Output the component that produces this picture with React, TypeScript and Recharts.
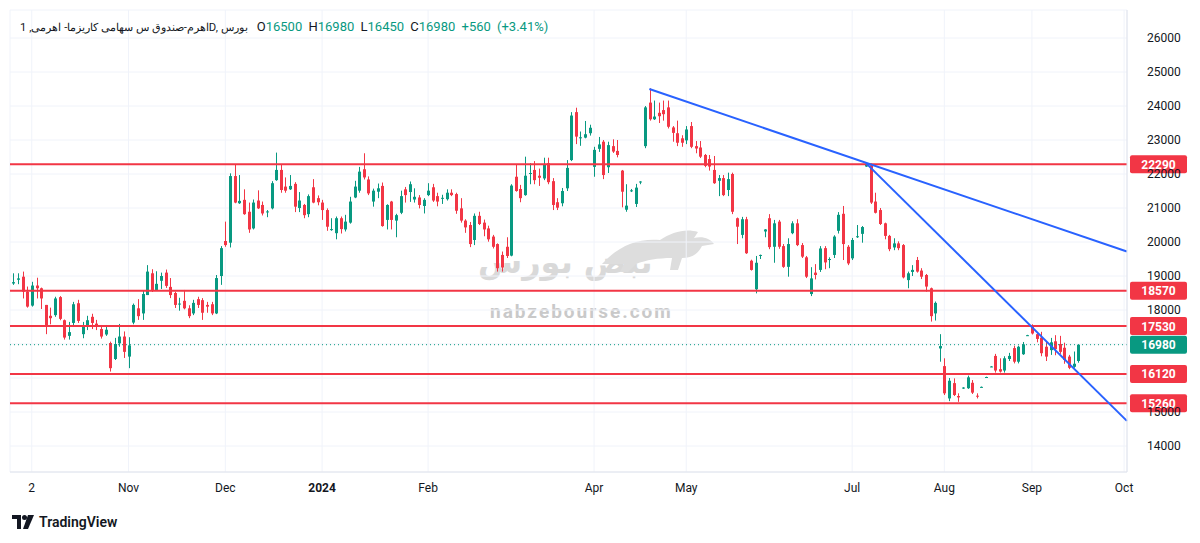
import React from "react";
import { Bar, CartesianGrid, ComposedChart, ReferenceLine, XAxis, YAxis } from "recharts";

// daily candles, Oct 2023 -> Sep 2024
const opens = [
  18780, 18890, 18980, 18540, 18130, 18720, 18640, 18150, 17830, 17850, 18380, 17700, 17240, 17620, 18200, 17290, 17540, 17800, 17600, 17440,
  17280, 17030, 16560, 17020, 17220, 16630, 17630, 18050, 17900, 18440, 19080, 18590, 18860, 19100, 18680, 18500, 18170, 18270, 18050, 17900,
  18320, 18290, 18150, 18170, 17900, 19000, 20030, 19980, 21940, 21140, 21240, 20890, 20400, 21220, 21090, 20880, 20990, 21820, 22120, 21630,
  21550, 21710, 21000, 21090, 20820, 21610, 21290, 21160, 20940, 20360, 20260, 20700, 20370, 20570, 21310, 21510, 22140, 21840, 21190, 21480,
  21650, 20650, 21190, 20630, 20860, 21550, 21470, 21250, 21310, 21060, 21380, 21610, 21350, 21280, 21260, 21450, 21410, 20990, 20630, 20500,
  20060, 20770, 20570, 20400, 20160, 19940, 19620, 19860, 19600, 21920, 21560, 21380, 22010, 22120, 21950, 21870, 22320, 21790, 21170, 21140,
  21580, 22410, 23820, 23050, 23070, 23200, 22210, 22740, 22950, 22200, 22820, 22680, 22100, 20950, 21500, 21120, 21770, 22820, 24100, 23610,
  23800, 23880, 23960, 23370, 23200, 23050, 22990, 23410, 22820, 22780, 22560, 22440, 22120, 21800, 21880, 21530, 22000, 20700, 20210, 20670,
  19450, 18610, 19610, 20310, 20700, 19860, 20600, 19880, 19270, 20260, 20550, 19910, 19550, 18470, 19100, 19180, 19820, 19480, 19620, 20330,
  20830, 19860, 19520, 20140, 20240, 22220, 22260, 21190, 20940, 20550, 20180, 19840, 19960, 19910, 18880, 19120, 19470, 19160, 19030, 18640,
  17900, 16870, 16350, 15400, 15850, 15470, 15690, 15700, 15860, 15480, 15720, 16010, 16320, 16650, 16260, 16220, 16560, 16880, 16480, 16700,
  17240, 17540, 17290, 17190, 16920, 16820, 17080, 17000, 16890, 16630, 16330, 16500,
];
const highs = [
  19080, 19080, 19130, 18690, 18830, 18950, 18660, 18150, 18070, 18390, 18410, 17720, 17650, 18240, 18300, 17650, 17830, 17890, 17710, 17560,
  17560, 17070, 17180, 17590, 17370, 17200, 18190, 18320, 18560, 19320, 19200, 19140, 19100, 19190, 18940, 18540, 18360, 18590, 18140, 18300,
  18390, 18350, 18240, 18240, 19030, 19880, 20600, 22020, 22290, 21970, 21550, 21160, 21250, 21520, 21190, 20940, 21790, 22630, 22270, 21900,
  21970, 21760, 21470, 21120, 21400, 21850, 21370, 21240, 20990, 20700, 20750, 20750, 20800, 21330, 21800, 22210, 22610, 21930, 21570, 21720,
  21750, 21110, 21210, 20830, 21510, 21620, 21780, 21580, 21380, 21290, 21730, 21710, 21450, 21390, 21550, 21550, 21450, 21290, 20670, 20590,
  20840, 20890, 20660, 20480, 20210, 19960, 19720, 20140, 21700, 22290, 21680, 22510, 22320, 22380, 22160, 22480, 22480, 21880, 21290, 21590,
  22410, 23820, 23950, 23250, 23560, 23450, 22800, 23090, 23000, 22950, 23020, 23000, 22120, 21700, 21560, 21710, 21790, 24000, 24520, 24160,
  24100, 24160, 24160, 23410, 23570, 23140, 23410, 23530, 22970, 22970, 22590, 22560, 22530, 21970, 21970, 22040, 22040, 20720, 20740, 20740,
  19480, 19590, 19630, 20380, 20820, 20650, 20650, 19940, 20110, 20610, 20670, 19970, 19590, 19260, 19350, 19880, 19880, 19550, 20200, 20880,
  21060, 19910, 20120, 20500, 20470, 22330, 22310, 21450, 21000, 20570, 20210, 20110, 20020, 19940, 19130, 19320, 19560, 19230, 19060, 18660,
  18250, 17290, 16580, 16000, 15990, 15550, 15730, 16070, 15940, 15550, 15750, 16040, 16350, 16710, 16580, 16640, 16740, 16950, 16950, 17060,
  17270, 17580, 17320, 17360, 17060, 17180, 17260, 17240, 17040, 16680, 16780, 16980,
];
const lows = [
  18740, 18760, 18340, 18070, 18100, 18340, 18030, 17290, 17580, 17800, 17700, 17130, 17130, 17500, 17620, 17170, 17410, 17440, 17410, 17160,
  17240, 16190, 16530, 16920, 16590, 16290, 17580, 17710, 17710, 18440, 18530, 18590, 18620, 18650, 18350, 18060, 17980, 18020, 17760, 17850,
  18060, 17710, 17920, 17850, 17880, 18740, 19860, 19840, 21140, 21120, 20800, 20270, 20370, 20970, 20780, 20730, 20960, 21800, 21450, 21450,
  21530, 20880, 20880, 20700, 20730, 21140, 21080, 20650, 20330, 20330, 20080, 20250, 20310, 20540, 21290, 21450, 21840, 21380, 21040, 21290,
  20450, 20370, 20370, 20140, 20820, 21160, 21180, 21160, 20990, 20840, 21350, 21180, 21050, 21120, 21220, 21350, 20830, 20570, 20270, 19850,
  19910, 20500, 20170, 20010, 19810, 19130, 19130, 19530, 19580, 21480, 21170, 21360, 21700, 21700, 21650, 21820, 21700, 20940, 20940, 21050,
  21500, 22380, 22880, 22830, 23050, 23130, 21920, 22650, 21850, 22030, 22620, 22490, 21020, 20890, 21470, 21030, 21700, 22760, 23570, 23590,
  23500, 23570, 23340, 22950, 22820, 22800, 22880, 22760, 22610, 22470, 22200, 22100, 21710, 21350, 21350, 21350, 20820, 19940, 20110, 19650,
  19160, 18490, 19500, 20140, 19790, 19390, 19800, 19240, 18980, 20230, 19880, 19530, 18940, 18410, 18900, 19120, 19200, 19230, 19530, 20250,
  19470, 19320, 19470, 20120, 19980, 22210, 21120, 20840, 20500, 20080, 19730, 19760, 19760, 18930, 18640, 19000, 19100, 18910, 18540, 17660,
  17690, 16480, 15500, 15320, 15470, 15300, 15680, 15680, 15530, 15400, 15720, 16010, 16320, 16160, 16160, 16160, 16500, 16430, 16430, 16680,
  17240, 17280, 17050, 16640, 16500, 16680, 16670, 16710, 16420, 16260, 16300, 16450,
];
const closes = [
  18820, 18930, 18540, 18100, 18720, 18640, 18340, 17560, 17760, 18340, 17740, 17190, 17350, 18170, 17680, 17510, 17700, 17620, 17520, 17220,
  17420, 16290, 17000, 17220, 16770, 16960, 18150, 17820, 18470, 19130, 18590, 18770, 19000, 18710, 18440, 18150, 18190, 18050, 17820, 18210,
  18150, 17920, 18100, 17900, 18940, 19820, 19910, 21940, 21160, 21210, 20820, 20370, 21160, 20990, 20840, 20900, 21730, 22120, 21530, 21510,
  21650, 21040, 21220, 20790, 21350, 21160, 21170, 20940, 20450, 20380, 20700, 20380, 20600, 21190, 21630, 22070, 21900, 21430, 21510, 21580,
  20470, 21090, 20650, 20790, 21350, 21380, 21700, 21330, 21090, 21240, 21510, 21220, 21190, 21300, 21450, 21380, 20920, 20630, 20430, 19940,
  20770, 20530, 20370, 20080, 19860, 19230, 19250, 19590, 21660, 21500, 21290, 21950, 22030, 21820, 21890, 22290, 21760, 21090, 21010, 21500,
  22180, 23720, 23100, 23080, 23170, 23360, 22710, 22870, 21970, 22850, 22660, 22560, 21480, 21070, 21520, 21600, 21780, 23960, 23610, 23690,
  23700, 23760, 23390, 23210, 22920, 22920, 23310, 22800, 22750, 22510, 22240, 22220, 21730, 21880, 21380, 21850, 20890, 20450, 20670, 19670,
  19180, 19390, 19620, 20370, 19850, 20550, 19860, 19270, 19940, 20550, 19910, 19570, 18980, 18930, 19030, 19810, 19400, 19500, 20160, 20800,
  19940, 19370, 20060, 20170, 20440, 22270, 21160, 20860, 20530, 20180, 19790, 19960, 19820, 18960, 19080, 19180, 19130, 18980, 18690, 17820,
  18210, 16940, 15550, 15920, 15500, 15430, 15720, 16020, 15570, 15460, 15740, 16030, 16340, 16220, 16190, 16580, 16650, 16480, 16920, 16990,
  17260, 17310, 17150, 16730, 16630, 17050, 16850, 16770, 16530, 16300, 16420, 16980,
];

const levels = [22290, 18570, 17530, 16120, 15260];
const lastPrice = 16980;
const priceTicks = [14000, 15000, 16000, 17000, 18000, 19000, 20000, 21000, 22000, 23000, 24000, 25000, 26000];
const monthTicks = [4, 25, 46, 67, 90, 126, 146, 182, 202, 221, 241];
const monthLabels = ["2", "Nov", "Dec", "2024", "Feb", "Apr", "May", "Jul", "Aug", "Sep", "Oct"];
const trendLines = [
  [{ x: 138, y: 24500 }, { x: 241.6, y: 19720 }],
  [{ x: 185, y: 22320 }, { x: 241.6, y: 14740 }],
];

const UP = "#089981";
const DOWN = "#F23645";
const FONT = "Roboto, 'Noto Sans', sans-serif";

const data = opens.map((o, i) => ({
  i,
  o,
  h: highs[i],
  l: lows[i],
  c: closes[i],
  range: [lows[i], highs[i]],
}));

// tick labels hidden under a price tag (tags sit on top of the scale)
const tagPrices = [...levels, lastPrice];
const hiddenTicks = priceTicks.filter((t) => tagPrices.some((p) => Math.abs(p - t) < 200));

function Candle(props: any) {
  const { x, y, width, height, payload } = props;
  if (!payload || payload.o == null) return null;
  const { o, h, l, c } = payload;
  const top = Math.min(y, y + height);
  const span = Math.abs(height);
  const toY = (v: number) => (h === l ? top : top + ((h - v) / (h - l)) * span);
  const color = c >= o ? UP : DOWN;
  const cx = Math.round(x + width / 2);
  const bodyTop = toY(Math.max(o, c));
  const bodyH = Math.max(1, toY(Math.min(o, c)) - bodyTop);
  return (
    <g>
      <line x1={cx + 0.5} x2={cx + 0.5} y1={top} y2={top + Math.max(span, 1)} stroke={color} strokeWidth={1} />
      <rect x={cx - 1} y={bodyTop} width={3} height={bodyH} fill={color} />
    </g>
  );
}

function PriceTag({ viewBox, price, fill }: any) {
  if (!viewBox) return null;
  const x = viewBox.x + viewBox.width + 3;
  const y = viewBox.y;
  return (
    <g>
      <rect x={x} y={y - 9} width={57} height={18} rx={2} fill={fill} />
      <text x={x + 28.5} y={y + 4.5} textAnchor="middle" fill="#ffffff" fontSize={12} fontWeight={700} fontFamily={FONT}>
        {price}
      </text>
    </g>
  );
}

function PriceTick({ x, y, payload }: any) {
  if (hiddenTicks.includes(payload.value)) return null;
  return (
    <text x={x + 12} y={y + 4} textAnchor="start" fill="#131722" fontSize={12} fontFamily={FONT}>
      {payload.value}
    </text>
  );
}

function MonthTick({ x, y, payload }: any) {
  const idx = monthTicks.indexOf(payload.value);
  const label = monthLabels[idx] ?? "";
  return (
    <text x={x} y={y + 12} textAnchor="middle" fill="#131722" fontSize={12} fontWeight={label === "2024" ? 700 : 400} fontFamily={FONT}>
      {label}
    </text>
  );
}

export default function App() {
  return (
    <div style={{ position: "absolute", left: 0, top: 0, width: 1200, height: 543, background: "#ffffff", fontFamily: FONT }}>
      <div
        style={{
          position: "absolute",
          left: 478,
          top: 243,
          fontSize: 32,
          fontWeight: 700,
          color: "#d9d9d9",
          fontFamily: "'DejaVu Sans', sans-serif",
          whiteSpace: "nowrap",
        }}
      >
        نبض بورس
      </div>
      <svg style={{ position: "absolute", left: 598, top: 224 }} width={120} height={50} viewBox="0 0 120 50">
        <path
          d="M4 40 C20 22 40 14 62 16 C74 8 88 4 100 8 L96 14 C104 12 112 14 116 20 L104 22 C100 30 94 34 84 34 L80 46 L72 46 L74 34 C60 34 48 36 38 40 L30 48 L22 48 L26 40 Z"
          fill="#dddddd"
        />
      </svg>
      <div
        style={{
          position: "absolute",
          left: 490,
          top: 300,
          fontSize: 19,
          fontWeight: 700,
          letterSpacing: 2,
          color: "#c9c9c9",
          whiteSpace: "nowrap",
        }}
      >
        nabzebourse.com
      </div>

      <ComposedChart
        width={1200}
        height={543}
        data={data}
        margin={{ top: 10, right: 0, left: 10, bottom: 41 }}
        style={{ position: "absolute", left: 0, top: 0 }}
      >
        <CartesianGrid stroke="#f0f3fa" />
        <XAxis
          dataKey="i"
          type="number"
          domain={[-0.716, 241.63]}
          allowDataOverflow
          ticks={monthTicks}
          interval={0}
          tick={<MonthTick />}
          tickLine={false}
          axisLine={{ stroke: "#e0e3eb" }}
          height={30}
        />
        <YAxis
          orientation="right"
          type="number"
          domain={[13236, 26824]}
          allowDataOverflow
          ticks={priceTicks}
          interval={0}
          width={73}
          tickLine={false}
          axisLine={{ stroke: "#e0e3eb" }}
          tick={<PriceTick />}
        />
        <Bar dataKey="range" shape={<Candle />} isAnimationActive={false} />
        <ReferenceLine
          y={lastPrice}
          stroke={UP}
          strokeDasharray="1 3"
          strokeWidth={1}
          label={<PriceTag price={lastPrice} fill={UP} />}
        />
        {levels.map((v) => (
          <ReferenceLine key={v} y={v} stroke={DOWN} strokeWidth={2} label={<PriceTag price={v} fill={DOWN} />} />
        ))}
        {trendLines.map((seg, k) => (
          <ReferenceLine key={k} segment={seg} stroke="#2962FF" strokeWidth={2} />
        ))}
      </ComposedChart>

      <div
        style={{
          position: "absolute",
          left: 20,
          top: 19,
          display: "flex",
          alignItems: "baseline",
          gap: 9,
          color: "#131722",
          whiteSpace: "nowrap",
        }}
      >
        <span style={{ fontSize: 11.3 }}>اهرم-صندوق س سهامی کاریزما- اهرمی, 1D, بورس</span>
        <span style={{ fontSize: 13, color: UP, wordSpacing: 3 }}>
          <span style={{ color: "#131722" }}>O</span>16500 <span style={{ color: "#131722" }}>H</span>16980{" "}
          <span style={{ color: "#131722" }}>L</span>16450 <span style={{ color: "#131722" }}>C</span>16980 +560 (+3.41%)
        </span>
      </div>

      <div style={{ position: "absolute", left: 12, top: 514, display: "flex", alignItems: "center", gap: 5 }}>
        <svg width={22} height={14} viewBox="0 0 22 14">
          <path d="M0 0h9v14H5V4H0z" fill="#131722" />
          <circle cx={12.5} cy={2.5} r={2.5} fill="#131722" />
          <path d="M16 0h6l-6 14h-5z" fill="#131722" />
        </svg>
        <span style={{ fontSize: 14, fontWeight: 600, color: "#131722" }}>TradingView</span>
      </div>
    </div>
  );
}
